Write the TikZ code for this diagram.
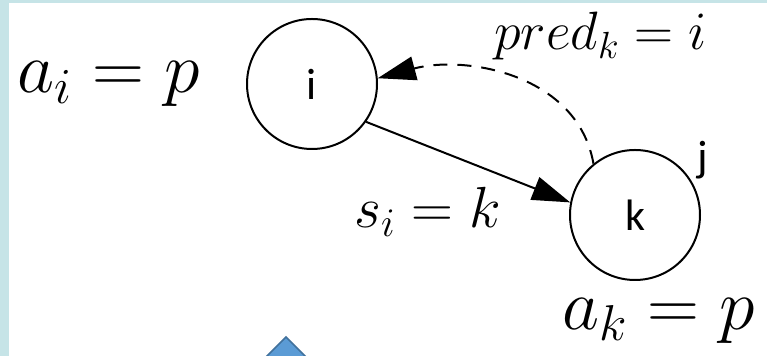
\RequirePackage{fix-cm}
\documentclass[tikz,border=0pt]{standalone}
\usepackage{fontspec}
\newfontfamily\statefont{Carlito}
\usetikzlibrary{arrows.meta}
\definecolor{framecol}{HTML}{C6E4E7}
\definecolor{blockfill}{HTML}{5B9BD5}
\definecolor{blockline}{HTML}{41719C}
\newcommand{\mathsize}[1]{\fontsize{#1}{#1}\selectfont}

\begin{document}
\begin{tikzpicture}[x=0.5pt, y=-0.5pt, every node/.style={inner sep=0pt},
    state/.style={draw, circle, line width=1pt, minimum size=65pt, font=\statefont\fontsize{22}{26}\selectfont},
    eqlabel/.style={anchor=base west},
    edgetip/.style={-{Triangle[length=19pt,width=12pt]}, line width=1pt}]
      % frame and page
      \fill[framecol] (0,0) rectangle (767,356);
      \fill[white] (9,3) rectangle (767,356);
      \useasboundingbox (0,0) rectangle (767,356);
      \begin{scope}
        \clip (0,0) rectangle (767,356);
        \filldraw[fill=blockfill, draw=blockline, line width=0.8pt] (286,337) -- (262,361) -- (310,361) -- cycle;
      \end{scope}
      % states
      \node[state] (i) at (312,84)  {i};
      \node[state] (k) at (635,215) {k};
      \node[font=\statefont\fontsize{22}{26}\selectfont] (jlab) at (703,160) {j};
      % labels
      \node[eqlabel, font=\mathsize{36}] (ai)   at (17,93)   {$a_i = p$};
      \node[eqlabel, font=\mathsize{36}] (ak)   at (562,330) {$a_k = p$};
      \node[eqlabel, font=\mathsize{27}] (pred) at (494,50)  {$pred_k = i$};
      \node[eqlabel, font=\mathsize{29}] (si)   at (354,228) {$s_i = k$};
      % edges
      \draw[edgetip] (i.-35) -- (k.169);
      \draw[edgetip, dash pattern=on 7pt off 5pt] (k.129) to[out=100, in=15] (i.5);
    \end{tikzpicture}
\end{document}
